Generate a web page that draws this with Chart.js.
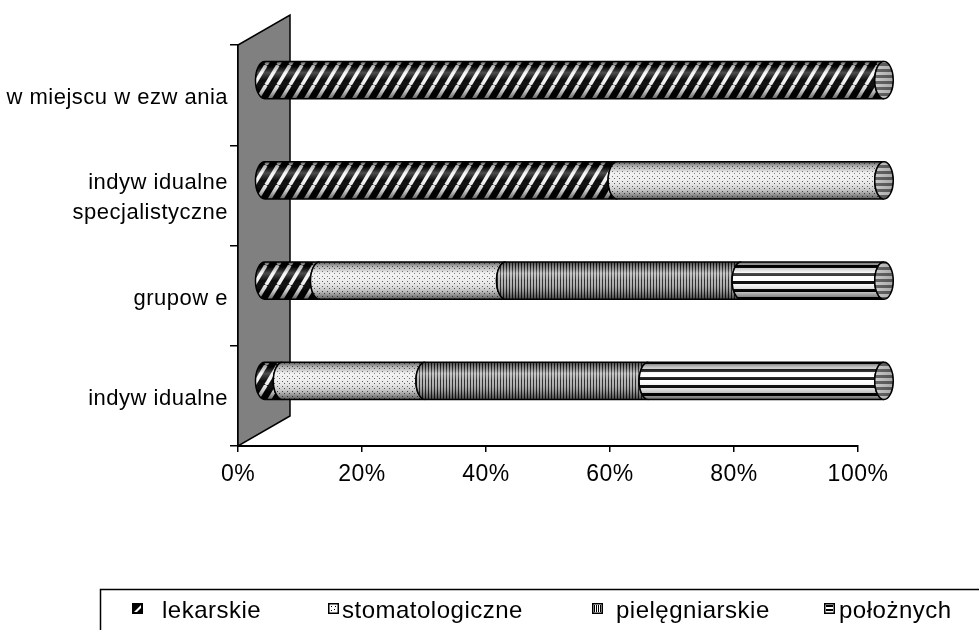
<!DOCTYPE html>
<html><head><meta charset="utf-8">
<style>html,body{margin:0;padding:0;background:#fff}canvas{display:block}</style>
</head><body>
<canvas id="c" width="979" height="630"></canvas>
<script src="https://cdn.jsdelivr.net/npm/chart.js@4.4.1/dist/chart.umd.min.js"></script>
<script>
// ---- data ----
const categories = ['w miejscu w ezw ania', ['indyw idualne', 'specjalistyczne'], 'grupow e', 'indyw idualne'];
const seriesNames = ['lekarskie', 'stomatologiczne', 'pielęgniarskie', 'położnych'];
const lekarskie = [100, 57, 9, 3];
const stomatologiczne = [0, 43, 30, 23];
const pielegniarskie = [0, 0, 38, 36];
const poloznych = [0, 0, 23, 38];
const xTicks = [0, 20, 40, 60, 80, 100];

const FONT = '"Liberation Sans", Arial, sans-serif';
const canvas = document.getElementById('c');
const mainCtx = canvas.getContext('2d');

function tile(w, h, draw) {
  const t = document.createElement('canvas'); t.width = w; t.height = h;
  const g = t.getContext('2d'); draw(g, w, h);
  return mainCtx.createPattern(t, 'repeat');
}
const patterns = [
  tile(12, 20, (g, w, h) => { g.fillStyle = '#000'; g.fillRect(0, 0, w, h); g.strokeStyle = '#f4f4f4'; g.lineWidth = 3.6;
    for (const o of [-w, 0, w]) { g.beginPath(); g.moveTo(o, h); g.lineTo(o + w, 0); g.stroke(); } }),
  tile(5, 5, (g) => { g.fillStyle = '#ececec'; g.fillRect(0, 0, 5, 5); g.fillStyle = '#555'; g.fillRect(1, 1, 1, 1); g.fillRect(3, 3, 1, 1); }),
  tile(3, 3, (g) => { g.fillStyle = '#b0b0b0'; g.fillRect(0, 0, 3, 3); g.fillStyle = '#222'; g.fillRect(0, 0, 1, 3); }),
  tile(1, 8, (g) => { g.fillStyle = '#fff'; g.fillRect(0, 0, 1, 8); g.fillStyle = '#000'; g.fillRect(0, 0, 1, 3); })
];
const capPattern = tile(1, 6, (g) => { g.fillStyle = '#eee'; g.fillRect(0, 0, 1, 6); g.fillStyle = '#777'; g.fillRect(0, 0, 1, 3); });

const DX = 26, DY = -15; // half wall depth

const wallPlugin = {
  id: 'wall',
  beforeDraw(chart) { chart.ctx.letterSpacing = '0.5px'; },
  beforeDatasetsDraw(chart) {
    const { ctx, chartArea: a } = chart;
    ctx.save();
    ctx.beginPath();
    ctx.moveTo(a.left, a.bottom);
    ctx.lineTo(a.left, a.top);
    ctx.lineTo(a.left + 2 * DX, a.top + 2 * DY);
    ctx.lineTo(a.left + 2 * DX, a.bottom + 2 * DY);
    ctx.closePath();
    ctx.fillStyle = '#808080'; ctx.fill();
    ctx.strokeStyle = '#000'; ctx.lineWidth = 1.5; ctx.stroke();
    ctx.restore();
  },
  afterDatasetsDraw(chart) {
    const ctx = chart.ctx;
    const xs = chart.scales.x;
    ctx.save();
    ctx.translate(DX, DY);
    const n = chart.data.labels.length;
    for (let i = 0; i < n; i++) {
      let endX = null, cy = 0, h = 0;
      chart.data.datasets.forEach((ds, di) => {
        const el = chart.getDatasetMeta(di).data[i];
        const p = el.getProps(['x', 'y', 'base', 'height'], true);
        cy = p.y; h = p.height / 2;
        const xa = Math.min(p.x, p.base), xb = Math.max(p.x, p.base);
        const rx = h * 0.5;
        if (xb - xa < 0.5) return;
        ctx.beginPath();
        ctx.moveTo(xa, cy - h);
        ctx.lineTo(xb, cy - h);
        ctx.ellipse(xb, cy, rx, h, 0, -Math.PI / 2, Math.PI / 2, true);
        ctx.lineTo(xa, cy + h);
        ctx.ellipse(xa, cy, rx, h, 0, Math.PI / 2, 3 * Math.PI / 2, false);
        ctx.closePath();
        ctx.fillStyle = patterns[di]; ctx.fill();
        const gr = ctx.createLinearGradient(0, cy - h, 0, cy + h);
        gr.addColorStop(0, 'rgba(0,0,0,0.6)');
        gr.addColorStop(0.12, 'rgba(0,0,0,0.25)');
        gr.addColorStop(0.3, 'rgba(255,255,255,0.3)');
        gr.addColorStop(0.5, 'rgba(255,255,255,0.05)');
        gr.addColorStop(0.8, 'rgba(0,0,0,0.22)');
        gr.addColorStop(1, 'rgba(0,0,0,0.6)');
        ctx.fillStyle = gr; ctx.fill();
        ctx.strokeStyle = '#000'; ctx.lineWidth = 1.5; ctx.stroke();
        endX = xb;
      });
      if (endX === null) continue;
      const full = xs.getPixelForValue(100);
      ctx.beginPath();
      ctx.ellipse(full, cy, h * 0.5, h, 0, 0, Math.PI * 2);
      ctx.fillStyle = capPattern; ctx.fill();
      const gr = ctx.createLinearGradient(full - h * 0.5, 0, full + h * 0.5, 0);
      gr.addColorStop(0, 'rgba(0,0,0,0.15)');
      gr.addColorStop(1, 'rgba(0,0,0,0.3)');
      ctx.fillStyle = gr; ctx.fill();
      ctx.strokeStyle = '#000'; ctx.lineWidth = 1.5; ctx.stroke();
    }
    ctx.restore();
  }
};

const legendPlugin = {
  id: 'boxLegend',
  afterDraw(chart) {
    const ctx = chart.ctx;
    ctx.save();
    ctx.strokeStyle = '#000'; ctx.lineWidth = 1.5;
    ctx.strokeRect(100.5, 589.5, 1000, 200);
    const iconX = [132, 328, 592, 824];
    const textX = [162, 342, 616, 839];
    const iy = 603, s = 11;
    ctx.letterSpacing = '0.5px';
    ctx.font = '24px ' + FONT; ctx.fillStyle = '#000'; ctx.textBaseline = 'middle';
    seriesNames.forEach((name, k) => {
      const x = iconX[k];
      if (k === 0) {
        ctx.fillStyle = '#000'; ctx.fillRect(x, iy, s, s);
        ctx.fillStyle = '#fff';
        ctx.beginPath(); ctx.moveTo(x + 2, iy + s - 2); ctx.lineTo(x + s - 2, iy + 2); ctx.lineTo(x + s - 2, iy + 5); ctx.lineTo(x + 5, iy + s - 2); ctx.closePath(); ctx.fill();
      } else {
        ctx.fillStyle = '#fff'; ctx.fillRect(x, iy, s, s);
        ctx.fillStyle = '#000';
        if (k === 1) { ctx.fillRect(x + 3, iy + 3, 1, 1); ctx.fillRect(x + 6, iy + 6, 1, 1); ctx.fillRect(x + 7, iy + 3, 1, 1); ctx.fillRect(x + 3, iy + 7, 1, 1); }
        if (k === 2) { for (let j = 2; j < s - 1; j += 2) ctx.fillRect(x + j, iy + 2, 1, s - 4); }
        if (k === 3) { ctx.fillRect(x + 2, iy + 2, s - 4, 2); ctx.fillRect(x + 2, iy + 6, s - 4, 2); }
        ctx.strokeStyle = '#000'; ctx.lineWidth = 1.5;
        ctx.strokeRect(x + 0.75, iy + 0.75, s - 1.5, s - 1.5);
      }
      ctx.fillStyle = '#000';
      ctx.fillText(name, textX[k], iy + s / 2 + 3);
    });
    ctx.restore();
  }
};

const datasets = [lekarskie, stomatologiczne, pielegniarskie, poloznych].map((d, i) => ({
  label: seriesNames[i], data: d, backgroundColor: 'rgba(0,0,0,0)', borderWidth: 0,
  categoryPercentage: 1, barPercentage: 0.37
}));

new Chart(canvas, {
  type: 'bar',
  data: { labels: categories, datasets },
  options: {
    indexAxis: 'y', responsive: false, animation: false, devicePixelRatio: 1,
    layout: { padding: { left: 0, top: 45, right: 121, bottom: 0 } },
    plugins: { legend: { display: false }, tooltip: { enabled: false } },
    scales: {
      x: {
        stacked: true, min: 0, max: 100,
        afterBuildTicks: (s) => { s.ticks = xTicks.map(v => ({ value: v })); },
        afterFit: (s) => { s.height = 630 - 446; },
        ticks: { callback: v => v + '%', color: '#000', font: { family: FONT, size: 23 }, padding: 9, maxRotation: 0 },
        grid: { drawOnChartArea: false, drawTicks: true, tickLength: 6, color: '#000', lineWidth: 1.5 },
        border: { display: true, color: '#000', width: 2 }
      },
      y: {
        stacked: true,
        afterFit: (s) => { s.width = 238; },
        ticks: { color: '#000', font: { family: FONT, size: 22, lineHeight: 1.36 }, padding: 2, labelOffset: 3 },
        grid: { drawOnChartArea: false, drawTicks: true, tickLength: 8, offset: true, color: '#000', lineWidth: 1.5 },
        border: { display: true, color: '#000', width: 1.5 }
      }
    }
  },
  plugins: [wallPlugin, legendPlugin]
});
</script>
</body></html>
